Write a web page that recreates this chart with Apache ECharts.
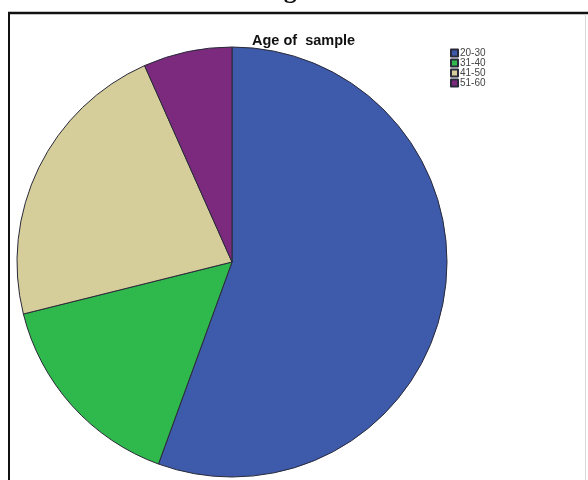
<!DOCTYPE html>
<html>
<head>
<meta charset="utf-8">
<script src="https://cdn.jsdelivr.net/npm/echarts@6/dist/echarts.min.js"></script>
<style>
  html, body { margin: 0; padding: 0; background: #ffffff; }
  #chart { width: 588px; height: 480px; }
</style>
</head>
<body>
<div id="chart"></div>
<script>
// Age groups of the sample and their counts
const ageGroups = ['20-30', '31-40', '41-50', '51-60'];
const counts = [25, 7, 10, 3];
const sliceColors = ['#3d5aab', '#2fb84b', '#d5cd9a', '#7c2a7e'];

const chart = echarts.init(document.getElementById('chart'));

chart.setOption({
  backgroundColor: '#ffffff',
  animation: false,
  title: {
    text: 'Age of  sample',
    left: 247,
    top: 28,
    textStyle: {
      fontFamily: 'Liberation Sans, Arial, sans-serif',
      fontWeight: 'bold',
      fontSize: 14.5,
      color: '#111111'
    }
  },
  legend: {
    orient: 'vertical',
    left: 445,
    top: 43,
    itemWidth: 7,
    itemHeight: 7,
    itemGap: 0,
    icon: 'rect',
    data: ageGroups,
    textStyle: {
      fontFamily: 'Liberation Sans, Arial, sans-serif',
      fontSize: 10,
      lineHeight: 8,
      color: '#444444',
      padding: [0, 0, 0, -3]
    }
  },
  graphic: [
    // heading text above the frame, mostly outside the page
    {
      type: 'text',
      left: 265,
      top: -22,
      style: {
        text: 'Age',
        fontFamily: 'Liberation Serif, serif',
        fontWeight: 'bold',
        fontSize: 26,
        fill: '#111111'
      }
    },
    // chart frame
    {
      type: 'line',
      shape: { x1: 8, y1: 13, x2: 588, y2: 13 },
      style: { stroke: '#111111', lineWidth: 2.5 }
    },
    {
      type: 'line',
      shape: { x1: 9, y1: 12, x2: 9, y2: 480 },
      style: { stroke: '#111111', lineWidth: 2 }
    },
    {
      type: 'line',
      shape: { x1: 585.5, y1: 14, x2: 585.5, y2: 480 },
      style: { stroke: '#d8d8d8', lineWidth: 1 }
    }
  ],
  series: [
    {
      type: 'pie',
      center: [232, 262],
      radius: 215,
      startAngle: 90,
      clockwise: true,
      label: { show: false },
      labelLine: { show: false },
      emphasis: { disabled: true },
      itemStyle: {
        borderColor: '#2a2a3a',
        borderWidth: 1
      },
      data: ageGroups.map((name, i) => ({
        name: name,
        value: counts[i],
        itemStyle: { color: sliceColors[i] }
      }))
    }
  ]
});
</script>
</body>
</html>
